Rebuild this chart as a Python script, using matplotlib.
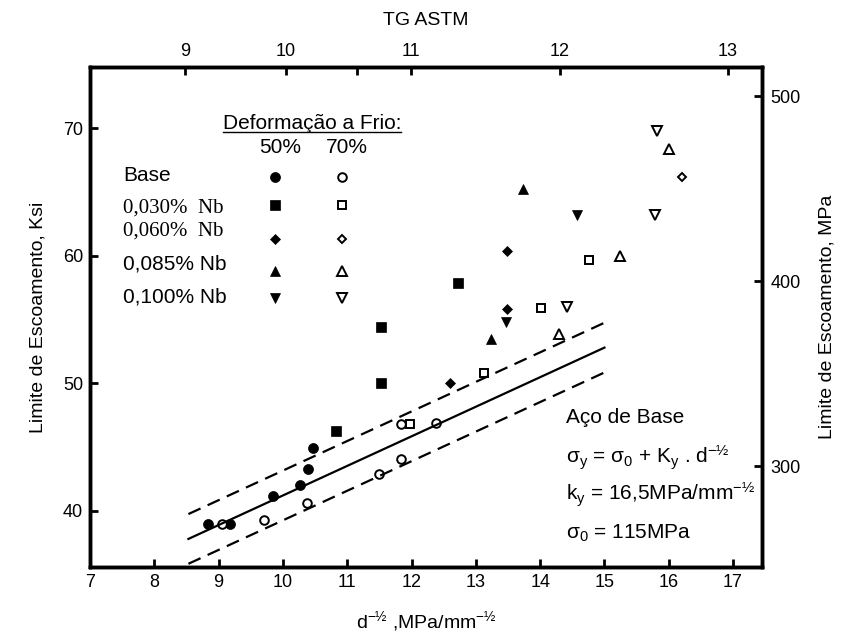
import matplotlib
matplotlib.use('Agg')
import matplotlib.pyplot as plt
import numpy as np

plt.rcParams['font.family'] = ['Liberation Sans', 'DejaVu Sans']
plt.rcParams['mathtext.fontset'] = 'custom'
plt.rcParams['mathtext.rm'] = 'Liberation Sans'
plt.rcParams['mathtext.it'] = 'Liberation Sans'

# Data (x = d^-1/2, y = yield stress in ksi)
base50_x = [8.84, 9.18, 9.85, 10.27, 10.39, 10.47]
base50_y = [39.0, 39.0, 41.2, 42.0, 43.3, 44.9]
base70_x = [9.06, 9.71, 10.38, 11.49, 11.84, 11.84, 12.38]
base70_y = [39.0, 39.3, 40.6, 42.9, 44.1, 46.8, 46.9]

nb030_50_x = [10.83, 11.53, 11.53, 12.73]
nb030_50_y = [46.3, 50.0, 54.4, 57.9]
nb030_70_x = [11.98, 13.13, 14.02, 14.76]
nb030_70_y = [46.8, 50.8, 55.9, 59.7]

nb060_50_x = [12.60, 13.49, 13.49]
nb060_50_y = [50.0, 55.8, 60.4]
nb060_70_x = [16.21]
nb060_70_y = [66.2]

nb085_50_x = [13.23, 13.74]
nb085_50_y = [53.5, 65.2]
nb085_70_x = [14.29, 15.24, 16.01]
nb085_70_y = [53.9, 60.0, 68.4]

nb100_50_x = [13.47, 14.58]
nb100_50_y = [54.8, 63.2]
nb100_70_x = [14.42, 15.79, 15.81]
nb100_70_y = [56.0, 63.2, 69.8]

# Hall-Petch fit for base steel and scatter band
fit_x = [8.53, 15.0]
fit_y = [37.8, 52.8]
band = 1.95

# TG ASTM grain size scale (top axis), positions on the d^-1/2 scale
astm_pos = [8.48, 10.05, 11.15, 11.99, 14.31, 16.92]
astm_lab = ['9', '10', '', '11', '12', '13']

KSI_TO_MPA = 6.895
xlim = (7, 17.45)
ylim = (35.6, 74.8)

series = [
    ('Base', 'o', base50_x, base50_y, base70_x, base70_y, 'sans'),
    ('0,030%  Nb', 's', nb030_50_x, nb030_50_y, nb030_70_x, nb030_70_y, 'serif'),
    ('0,060%  Nb', 'D', nb060_50_x, nb060_50_y, nb060_70_x, nb060_70_y, 'serif'),
    ('0,085% Nb', '^', nb085_50_x, nb085_50_y, nb085_70_x, nb085_70_y, 'sans'),
    ('0,100% Nb', 'v', nb100_50_x, nb100_50_y, nb100_70_x, nb100_70_y, 'sans'),
]
msize = {'o': 7.2, 's': 7.2, 'D': 5.4, '^': 7.6, 'v': 7.6}

fig = plt.figure(figsize=(8.43, 6.39), dpi=100)
ax = fig.add_axes([0.1068, 0.1127, 0.7971, 0.7824])

for name, m, x50, y50, x70, y70, fam in series:
    ax.plot(x50, y50, ls='none', marker=m, ms=msize[m], mfc='black', mec='black', mew=0.5)
    ax.plot(x70, y70, ls='none', marker=m, ms=msize[m] - 1.0, mfc='white', mec='black', mew=1.4)

fx = np.array(fit_x)
fy = np.array(fit_y)
ax.plot(fx, fy, color='black', lw=1.6)
ax.plot(fx, fy + band, color='black', lw=1.6, dashes=(6, 3.5))
ax.plot(fx, fy - band, color='black', lw=1.6, dashes=(6, 3.5))

ax.set_xlim(*xlim)
ax.set_ylim(*ylim)
ax.set_xticks(range(7, 18))
ax.set_yticks([40, 50, 60, 70])
ax.tick_params(direction='in', length=6, width=2, labelsize=13, pad=5)
for s in ax.spines.values():
    s.set_linewidth(2.4)
ax.set_xlabel(r'd$^{\mathregular{-½}}$ ,MPa/mm$^{\mathregular{-½}}$', fontsize=14, labelpad=13)
ax.set_ylabel('Limite de Escoamento, Ksi', fontsize=14, labelpad=12)

# right axis in MPa
axr = ax.twinx()
axr.set_ylim(ylim[0] * KSI_TO_MPA, ylim[1] * KSI_TO_MPA)
axr.set_yticks([300, 400, 500])
axr.tick_params(direction='in', length=6, width=2, labelsize=13, pad=6)
axr.set_ylabel('Limite de Escoamento, MPa', fontsize=14, labelpad=13)

# top axis: ASTM grain size
axt = ax.twiny()
axt.set_xlim(*xlim)
axt.set_xticks(astm_pos)
axt.set_xticklabels(astm_lab)
axt.tick_params(direction='in', length=6, width=2, labelsize=13, pad=5)
axt.set_xlabel('TG ASTM', fontsize=14, labelpad=13)
for a in (axr, axt):
    for s in a.spines.values():
        s.set_linewidth(2.4)

# key
tr = ax.transAxes
t = ax.text(0.330, 0.888, 'Deformação a Frio:', transform=tr, fontsize=15,
            ha='center', va='center')
ax.text(0.283, 0.839, '50%', transform=tr, fontsize=15, ha='center', va='center')
ax.text(0.382, 0.839, '70%', transform=tr, fontsize=15, ha='center', va='center')
label_y = [0.784, 0.717, 0.671, 0.607, 0.541]
mark_y = [0.781, 0.724, 0.657, 0.592, 0.539]
for (name, m, *_r, fam), ly, my in zip(series, label_y, mark_y):
    if fam == 'serif':
        ax.text(0.0496, ly, name, transform=tr, fontsize=15, ha='left', va='center',
                family=['Liberation Serif', 'DejaVu Serif'])
    else:
        ax.text(0.0496, ly, name, transform=tr, fontsize=15, ha='left', va='center')
    ax.plot([0.275], [my], transform=tr, marker=m, ms=msize[m], mfc='black', mec='black', mew=0.5)
    ax.plot([0.3745], [my], transform=tr, marker=m, ms=msize[m] - 1.0, mfc='white', mec='black', mew=1.4)

fig.canvas.draw()
bb = t.get_window_extent().transformed(ax.transAxes.inverted())
ax.plot([bb.x0, bb.x1], [bb.y0 + 0.002, bb.y0 + 0.002], transform=tr, color='black', lw=1)

# equation block
ax.text(0.708, 0.299, 'Aço de Base', transform=tr, fontsize=15, va='center')
ax.text(0.708, 0.219, r'σ$_{\mathregular{y}}$ = σ$_{\mathregular{0}}$ + K$_{\mathregular{y}}$ . d$^{\mathregular{-½}}$',
        transform=tr, fontsize=15, va='center')
ax.text(0.708, 0.144, r'k$_{\mathregular{y}}$ = 16,5MPa/mm$^{\mathregular{-½}}$', transform=tr, fontsize=15, va='center')
ax.text(0.708, 0.067, r'σ$_{\mathregular{0}}$ = 115MPa', transform=tr, fontsize=15, va='center')

fig.savefig('out.png', dpi=100)
